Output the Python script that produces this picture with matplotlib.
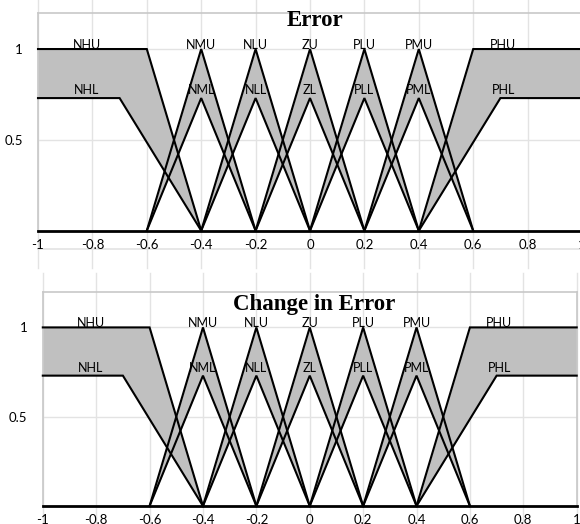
import numpy as np
import matplotlib
matplotlib.use('Agg')
from matplotlib import pyplot as plt

# interval type-2 membership functions: upper (U) and lower (L) bounds
set_names = ['NH', 'NM', 'NL', 'Z', 'PL', 'PM', 'PH']
upper_x = [[-1, -0.6, -0.4], [-0.6, -0.4, -0.2], [-0.4, -0.2, 0.0],
           [-0.2, 0.0, 0.2], [0.0, 0.2, 0.4], [0.2, 0.4, 0.6],
           [0.4, 0.6, 1.0]]
upper_y = [[1, 1, 0], [0, 1, 0], [0, 1, 0], [0, 1, 0], [0, 1, 0],
           [0, 1, 0], [0, 1, 1]]
lower_x = [[-1, -0.7, -0.4], [-0.6, -0.4, -0.2], [-0.4, -0.2, 0.0],
           [-0.2, 0.0, 0.2], [0.0, 0.2, 0.4], [0.2, 0.4, 0.6],
           [0.4, 0.7, 1.0]]
lower_y = [[0.73, 0.73, 0], [0, 0.73, 0], [0, 0.73, 0], [0, 0.73, 0],
           [0, 0.73, 0], [0, 0.73, 0], [0, 0.73, 0.73]]

x_ticks = [-1, -0.8, -0.6, -0.4, -0.2, 0, 0.2, 0.4, 0.6, 0.8, 1]
x_ticklabels = ['-1', '-0.8', '-0.6', '-0.4', '-0.2', '0', '0.2', '0.4',
                '0.6', '0.8', '1']
y_ticks = [0.5, 1]
y_ticklabels = ['0.5', '1']
titles = ['Error', 'Change in Error']

# where the set names sit along x
label_x = [-0.82, -0.4, -0.2, 0.0, 0.2, 0.4, 0.71]

FILL = '#c0c0c0'
GRID = '#e3e3e3'
FRAME = '#c8c8c8'
SANS = ['Lato', 'DejaVu Sans']


def draw_panel(ax, title, title_y, grid_lo, grid_hi, under_line=None):
    ax.set_xlim(-1, 1)
    ax.set_ylim(0, 1.2)

    for xs in x_ticks:
        ax.plot([xs, xs], [grid_lo, grid_hi], color=GRID, lw=1,
                clip_on=False, zorder=0)
    for ys in y_ticks:
        ax.axhline(ys, color=GRID, lw=1, zorder=0)
    if under_line is not None:
        ax.plot([-1, 1], [under_line, under_line], color=GRID, lw=1.2,
                clip_on=False, zorder=0)

    for ux, uy, lx, ly in zip(upper_x, upper_y, lower_x, lower_y):
        xx = np.unique(np.concatenate([ux, lx]))
        ax.fill_between(xx, np.interp(xx, ux, uy), np.interp(xx, lx, ly),
                        color=FILL, lw=0, zorder=2)
    for ux, uy, lx, ly in zip(upper_x, upper_y, lower_x, lower_y):
        ax.plot(ux, uy, color='black', lw=1.5, zorder=3,
                solid_joinstyle='miter', clip_on=False)
        ax.plot(lx, ly, color='black', lw=1.5, zorder=3,
                solid_joinstyle='miter', clip_on=False)

    for name, lxp in zip(set_names, label_x):
        ax.text(lxp, 0.99, name + 'U', ha='center', va='bottom',
                fontsize=9, family=SANS, zorder=4)
        ax.text(lxp, 0.74, name + 'L', ha='center', va='bottom',
                fontsize=9, family=SANS, zorder=4)

    ax.set_xticks(x_ticks)
    ax.set_xticklabels(x_ticklabels, family=SANS, fontsize=9.5)
    ax.set_yticks(y_ticks)
    ax.set_yticklabels(y_ticklabels, family=SANS, fontsize=9.5)
    ax.tick_params(length=0)
    ax.tick_params(axis='x', pad=6)
    ax.tick_params(axis='y', pad=11)

    for side in ['top', 'left', 'right']:
        ax.spines[side].set_color(FRAME)
        ax.spines[side].set_linewidth(1.2)
    ax.spines['bottom'].set_color('black')
    ax.spines['bottom'].set_linewidth(2)
    ax.spines['bottom'].set_zorder(5)

    ax.text(0.017, title_y, title, ha='center', va='baseline',
            fontsize=16.5, fontweight='bold', family='Liberation Serif',
            zorder=6)


fig = plt.figure(figsize=(5.8, 5.24), dpi=100)
ax1 = fig.add_axes([38 / 580, 1 - 230.7 / 524, 544 / 580, 218 / 524])
ax2 = fig.add_axes([42.8 / 580, 1 - 506 / 524, 533.9 / 580, 214.3 / 524])

draw_panel(ax1, titles[0], 1.125, -0.205, 1.35, under_line=-0.1)
draw_panel(ax2, titles[1], 1.1, -0.2, 1.307)

fig.savefig('out.png', dpi=100)
